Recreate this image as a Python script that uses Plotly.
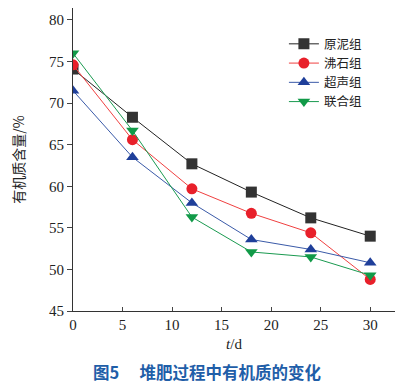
import plotly.graph_objects as go

days = [0, 6, 12, 18, 24, 30]
yuanni = [74.1, 68.3, 62.7, 59.3, 56.2, 54.0]
feishi = [74.6, 65.6, 59.7, 56.75, 54.4, 48.8]
chaosheng = [71.5, 63.5, 58.0, 53.6, 52.4, 50.8]
lianhe = [76.0, 66.7, 56.3, 52.1, 51.5, 49.3]
names = ["原泥组", "沸石组", "超声组", "联合组"]
x_ticks = [0, 5, 10, 15, 20, 25, 30]
y_ticks = [45, 50, 55, 60, 65, 70, 75, 80]

series = [
    (names[0], yuanni, "#222222", "#333333", "square"),
    (names[1], feishi, "#f04040", "#e8202a", "circle"),
    (names[2], chaosheng, "#3a5aa8", "#1f3f9a", "triangle-up"),
    (names[3], lianhe, "#1a9a50", "#119a48", "triangle-down"),
]

fig = go.Figure()
for name, vals, lc, mc, sym in series:
    fig.add_trace(go.Scatter(
        x=days, y=vals, name=name, mode="lines+markers",
        line=dict(color=lc, width=1),
        marker=dict(symbol=sym, size=11, color=mc, line=dict(width=0)),
    ))

serif = "Liberation Serif, Noto Sans CJK SC, serif"
fig.update_layout(
    width=410, height=377,
    margin=dict(l=65, r=23, t=0, b=74, autoexpand=False),
    paper_bgcolor="white", plot_bgcolor="white",
    font=dict(family=serif, size=15, color="#222"),
    showlegend=True,
    legend=dict(x=0.655, y=0.93, xanchor="left", yanchor="top",
                font=dict(family="Noto Sans CJK SC", size=12.5, color="#222"),
                bgcolor="rgba(0,0,0,0)", tracegroupgap=0, itemwidth=30),
    xaxis=dict(range=[0, 32.5], tickvals=x_ticks, ticks="inside", ticklen=4,
               showline=True, linecolor="#333", linewidth=1.2, showgrid=False,
               zeroline=False, tickfont=dict(family=serif, size=15), automargin=False,
               title=dict(text="<i>t</i>/d", font=dict(family=serif, size=15), standoff=6)),
    yaxis=dict(range=[45, 81.44], tickvals=y_ticks, ticks="outside", ticklen=5,
               showline=True, linecolor="#333", linewidth=1.2, showgrid=False,
               zeroline=False, tickfont=dict(family=serif, size=15), automargin=False,
               title=dict(text="有机质含量/%", font=dict(family="Noto Sans CJK SC", size=14), standoff=22)),
)
fig.add_annotation(text="<b>图5　 堆肥过程中有机质的变化</b>", xref="paper", yref="paper",
                   x=0.415, y=-0.2, yanchor="middle", showarrow=False,
                   font=dict(family="Noto Sans CJK SC", size=16.5, color="#1f5ea8"))
fig.write_html("out.html")
